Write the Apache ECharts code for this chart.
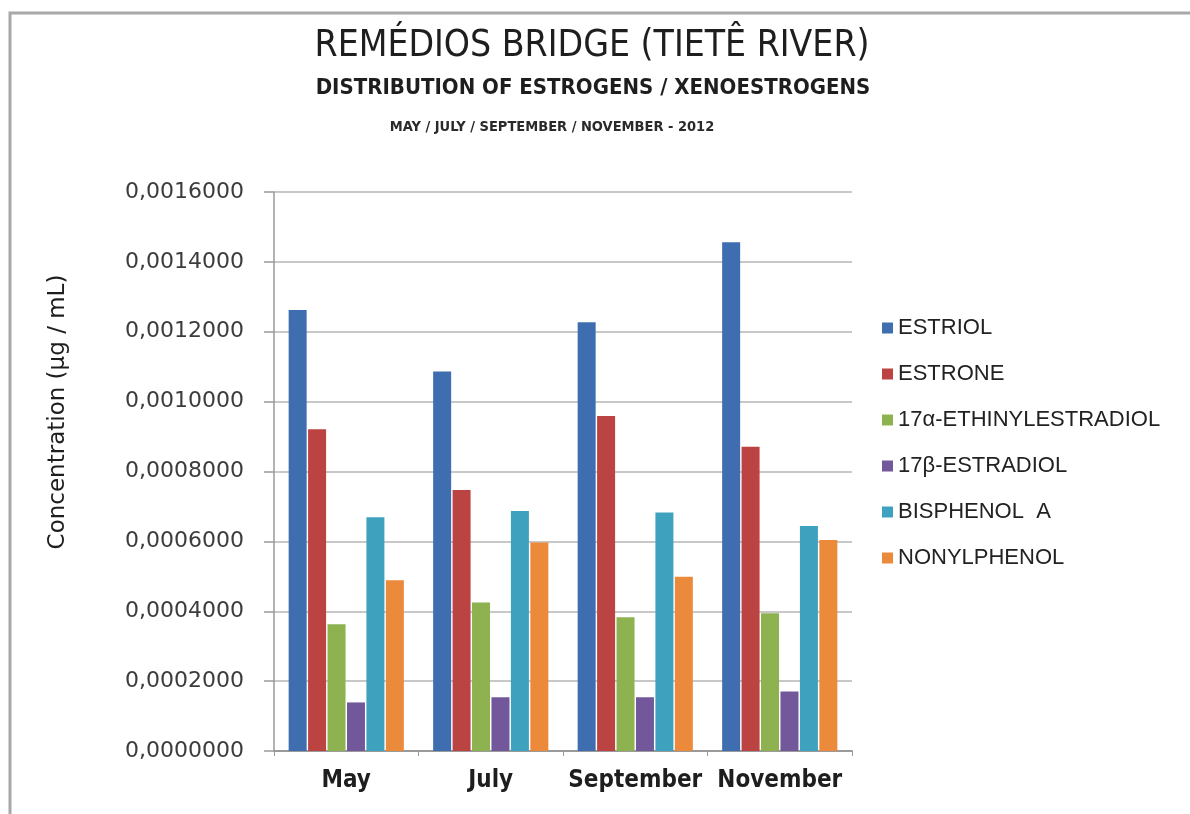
<!DOCTYPE html>
<html>
<head>
<meta charset="utf-8">
<title>Remédios Bridge (Tietê River)</title>
<script src="https://cdn.jsdelivr.net/npm/echarts@6/dist/echarts.min.js"></script>
<style>
  html, body { margin: 0; padding: 0; background: #ffffff; }
  #chart { width: 1190px; height: 814px; }
</style>
</head>
<body>
<div id="chart"></div>
<script>
// Sampling campaigns (2012)
const months = ['May', 'July', 'September', 'November'];

// Concentrations in µg/mL, one array per compound, in month order
const estriol          = [0.001262, 0.001086, 0.001227, 0.001456];
const estrone          = [0.000921, 0.000747, 0.000959, 0.000871];
const ethinylestradiol = [0.000363, 0.000425, 0.000383, 0.000394];
const estradiol        = [0.000139, 0.000154, 0.000154, 0.000170];
const bisphenolA       = [0.000669, 0.000687, 0.000683, 0.000644];
const nonylphenol      = [0.000489, 0.000597, 0.000499, 0.000604];

const seriesNames = ['ESTRIOL', 'ESTRONE', '17α-ETHINYLESTRADIOL', '17β-ESTRADIOL', 'BISPHENOL  A', 'NONYLPHENOL'];
const seriesData  = [estriol, estrone, ethinylestradiol, estradiol, bisphenolA, nonylphenol];
const seriesColors = ['#3f6eb0', '#bb4442', '#8db24f', '#72589b', '#3ea2bf', '#ec8a3b'];

// Y axis tick labels (decimal comma), from 0 up to 0.0016 in steps of 0.0002
const yStep = 0.0002;
const yTickLabels = ['0,0000000', '0,0002000', '0,0004000', '0,0006000', '0,0008000',
                     '0,0010000', '0,0012000', '0,0014000', '0,0016000'];

const chart = echarts.init(document.getElementById('chart'));

const narrow = "'Liberation Sans Narrow', 'Arial Narrow', 'DejaVu Sans Condensed', 'Liberation Sans', sans-serif";

chart.setOption({
  backgroundColor: '#ffffff',
  animation: false,
  grid: { left: 274, right: 338, top: 192, bottom: 63, containLabel: false },
  legend: {
    orient: 'vertical',
    left: 877,
    top: 312,
    itemWidth: 11,
    itemHeight: 11,
    itemGap: 24,
    icon: 'rect',
    textStyle: { fontFamily: "'Liberation Sans', Arial, sans-serif", fontSize: 22, color: '#222', lineHeight: 22 },
    data: seriesNames
  },
  xAxis: {
    type: 'category',
    data: months,
    axisLine: { show: true, lineStyle: { color: '#9a9a9a', width: 2 } },
    axisTick: { show: true, alignWithLabel: false, length: 5, lineStyle: { color: '#9a9a9a', width: 1 } },
    axisLabel: { interval: 0, margin: 18, fontFamily: narrow, fontWeight: 'bold', fontSize: 24, color: '#1e1e1e' }
  },
  yAxis: {
    type: 'value',
    min: 0,
    max: 0.0016,
    interval: yStep,
    axisLine: { show: true, lineStyle: { color: '#9a9a9a', width: 1.5 } },
    axisTick: { show: true, length: 10, lineStyle: { color: '#9a9a9a', width: 1.5 } },
    splitLine: { show: true, lineStyle: { color: '#c8c8c8', width: 2 } },
    axisLabel: {
      margin: 30,
      fontFamily: "'DejaVu Sans', Verdana, sans-serif",
      fontSize: 22,
      color: '#3c3c3c',
      formatter: function (v) { return yTickLabels[Math.round(v / yStep)]; }
    }
  },
  series: seriesNames.map(function (name, i) {
    return {
      name: name,
      type: 'bar',
      data: seriesData[i],
      barWidth: 18,
      barGap: '8%',
      itemStyle: { color: seriesColors[i] }
    };
  }),
  graphic: [
    {
      type: 'rect',
      shape: { x: 10, y: 13, width: 1200, height: 820 },
      style: { fill: 'none', stroke: '#a8a8a8', lineWidth: 3 },
      silent: true
    },
    {
      type: 'text', x: 592, y: 46,
      style: { text: 'REMÉDIOS BRIDGE (TIETÊ RIVER)', font: "37px " + narrow, fill: '#1e1e1e', textAlign: 'center', textVerticalAlign: 'middle' }
    },
    {
      type: 'text', x: 593, y: 88,
      style: { text: 'DISTRIBUTION OF ESTROGENS / XENOESTROGENS', font: "bold 22px " + narrow, fill: '#1e1e1e', textAlign: 'center', textVerticalAlign: 'middle' }
    },
    {
      type: 'text', x: 552, y: 127,
      style: { text: 'MAY / JULY / SEPTEMBER / NOVEMBER - 2012', font: "bold 14.5px " + narrow, fill: '#2a2a2a', textAlign: 'center', textVerticalAlign: 'middle' }
    },
    {
      type: 'text', x: 58, y: 412, rotation: Math.PI / 2,
      style: { text: 'Concentration (µg / mL)', font: "23px 'DejaVu Sans', Verdana, sans-serif", fill: '#1e1e1e', textAlign: 'center', textVerticalAlign: 'middle' }
    }
  ]
});
</script>
</body>
</html>
